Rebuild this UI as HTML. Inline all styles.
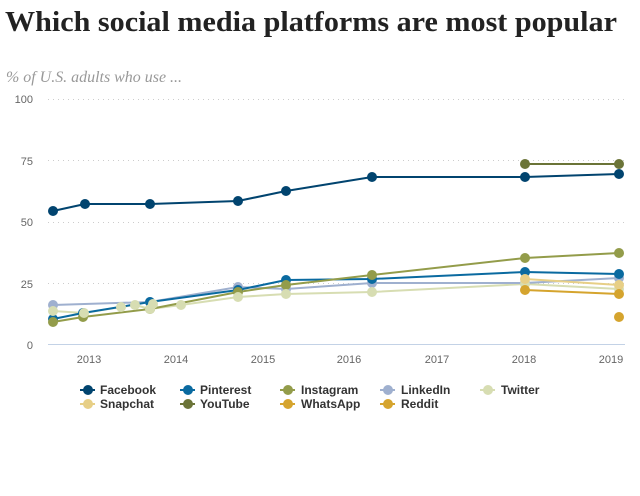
<!DOCTYPE html>
<html><head><meta charset="utf-8"><style>
html,body{margin:0;padding:0;background:#fff;}
svg{display:block;}
</style></head><body>
<svg width="640" height="496" viewBox="0 0 640 496" xmlns="http://www.w3.org/2000/svg">
<text x="5" y="31" font-family="Liberation Serif, serif" font-weight="bold" font-size="28" fill="#222" textLength="612" lengthAdjust="spacingAndGlyphs">Which social media platforms are most popular</text>
<text x="6" y="82" font-family="Liberation Serif, serif" font-style="italic" font-size="16" fill="#999" textLength="176" lengthAdjust="spacingAndGlyphs">% of U.S. adults who use ...</text>
<g stroke="#ccc" stroke-width="1" stroke-dasharray="1,4">
<line x1="48" y1="99.5" x2="625" y2="99.5"/>
<line x1="48" y1="160.5" x2="625" y2="160.5"/>
<line x1="48" y1="222.5" x2="625" y2="222.5"/>
<line x1="48" y1="283.5" x2="625" y2="283.5"/>
</g>
<line x1="48" y1="344.5" x2="625" y2="344.5" stroke="#c3d2e6" stroke-width="1"/>
<g font-family="Liberation Sans, sans-serif" font-size="11" fill="#666" text-anchor="end">
<text x="33" y="103">100</text>
<text x="33" y="165">75</text>
<text x="33" y="226">50</text>
<text x="33" y="288">25</text>
<text x="33" y="349">0</text>
</g>
<g font-family="Liberation Sans, sans-serif" font-size="11" fill="#666" text-anchor="middle">
<text x="89" y="363">2013</text>
<text x="176" y="363">2014</text>
<text x="263" y="363">2015</text>
<text x="349" y="363">2016</text>
<text x="437" y="363">2017</text>
<text x="524" y="363">2018</text>
<text x="611" y="363">2019</text>
</g>
<g fill="none" stroke-width="2" stroke-linejoin="round">
<polyline stroke="#d7ddb2" points="53,311 84,313 121,307 135,305 150,309 181,305 238,297 286,294 372,292 525,284 619,289"/>
<polyline stroke="#9fb0cf" points="53,305 150,302 238,287 286,289 372,283 525,283 619,278"/>
<polyline stroke="#0a6aa0" points="53,319 83,313 150,302 238,290 286,280 372,279 525,272 619,274"/>
<polyline stroke="#939c4a" points="53,322 83,317 150,309 238,292 286,285 372,275 525,258 619,253"/>
<polyline stroke="#e7cf86" points="525,279 619,285"/>
<polyline stroke="#d5a42e" points="525,290 619,294"/>
<polyline stroke="#6b7438" points="525,164 619,164"/>
<polyline stroke="#01446f" points="53,211 85,204 150,204 238,201 286,191 372,177 525,177 619,174"/>
</g>
<g fill="#9fb0cf">
<circle cx="53" cy="305" r="5"/><circle cx="150" cy="302" r="5"/><circle cx="238" cy="287" r="5"/><circle cx="286" cy="289" r="5"/><circle cx="372" cy="283" r="5"/><circle cx="525" cy="283" r="5"/><circle cx="619" cy="278" r="5"/>
</g>
<g fill="#0a6aa0">
<circle cx="53" cy="319" r="5"/><circle cx="83" cy="313" r="5"/><circle cx="150" cy="302" r="5"/><circle cx="238" cy="290" r="5"/><circle cx="286" cy="280" r="5"/><circle cx="372" cy="279" r="5"/><circle cx="525" cy="272" r="5"/><circle cx="619" cy="274" r="5"/>
</g>
<g fill="#939c4a">
<circle cx="53" cy="322" r="5"/><circle cx="83" cy="317" r="5"/><circle cx="150" cy="309" r="5"/><circle cx="238" cy="292" r="5"/><circle cx="286" cy="285" r="5"/><circle cx="372" cy="275" r="5"/><circle cx="525" cy="258" r="5"/><circle cx="619" cy="253" r="5"/>
</g>
<g fill="#d7ddb2">
<circle cx="53" cy="311" r="5"/><circle cx="84" cy="313" r="5"/><circle cx="121" cy="307" r="5"/><circle cx="135" cy="305" r="5"/><circle cx="150" cy="309" r="5"/><circle cx="153" cy="304" r="5"/><circle cx="181" cy="305" r="5"/><circle cx="238" cy="297" r="5"/><circle cx="286" cy="294" r="5"/><circle cx="372" cy="292" r="5"/><circle cx="525" cy="284" r="5"/><circle cx="619" cy="289" r="5"/>
</g>
<g fill="#e7cf86"><circle cx="525" cy="279" r="5"/><circle cx="619" cy="285" r="5"/></g>
<g fill="#d5a42e"><circle cx="525" cy="290" r="5"/><circle cx="619" cy="294" r="5"/><circle cx="619" cy="317" r="5"/></g>
<g fill="#6b7438"><circle cx="525" cy="164" r="5"/><circle cx="619" cy="164" r="5"/></g>
<g fill="#01446f">
<circle cx="53" cy="211" r="5"/><circle cx="85" cy="204" r="5"/><circle cx="150" cy="204" r="5"/><circle cx="238" cy="201" r="5"/><circle cx="286" cy="191" r="5"/><circle cx="372" cy="177" r="5"/><circle cx="525" cy="177" r="5"/><circle cx="619" cy="174" r="5"/>
</g>
<g font-family="Liberation Sans, sans-serif" font-size="12" font-weight="bold" fill="#333">
<g stroke-width="2">
<line x1="80" y1="390" x2="95" y2="390" stroke="#01446f"/><circle cx="88" cy="390" r="5" fill="#01446f"/>
<line x1="180" y1="390" x2="195" y2="390" stroke="#0a6aa0"/><circle cx="188" cy="390" r="5" fill="#0a6aa0"/>
<line x1="280" y1="390" x2="295" y2="390" stroke="#939c4a"/><circle cx="288" cy="390" r="5" fill="#939c4a"/>
<line x1="380" y1="390" x2="395" y2="390" stroke="#9fb0cf"/><circle cx="388" cy="390" r="5" fill="#9fb0cf"/>
<line x1="480" y1="390" x2="495" y2="390" stroke="#d7ddb2"/><circle cx="488" cy="390" r="5" fill="#d7ddb2"/>
<line x1="80" y1="404" x2="95" y2="404" stroke="#e7cf86"/><circle cx="88" cy="404" r="5" fill="#e7cf86"/>
<line x1="180" y1="404" x2="195" y2="404" stroke="#6b7438"/><circle cx="188" cy="404" r="5" fill="#6b7438"/>
<line x1="280" y1="404" x2="295" y2="404" stroke="#d5a42e"/><circle cx="288" cy="404" r="5" fill="#d5a42e"/>
<line x1="380" y1="404" x2="395" y2="404" stroke="#d5a42e"/><circle cx="388" cy="404" r="5" fill="#d5a42e"/>
</g>
<text x="100" y="394">Facebook</text>
<text x="200" y="394">Pinterest</text>
<text x="301" y="394">Instagram</text>
<text x="401" y="394">LinkedIn</text>
<text x="501" y="394">Twitter</text>
<text x="100" y="408">Snapchat</text>
<text x="200" y="408">YouTube</text>
<text x="301" y="408">WhatsApp</text>
<text x="401" y="408">Reddit</text>
</g>
</svg>
</body></html>
